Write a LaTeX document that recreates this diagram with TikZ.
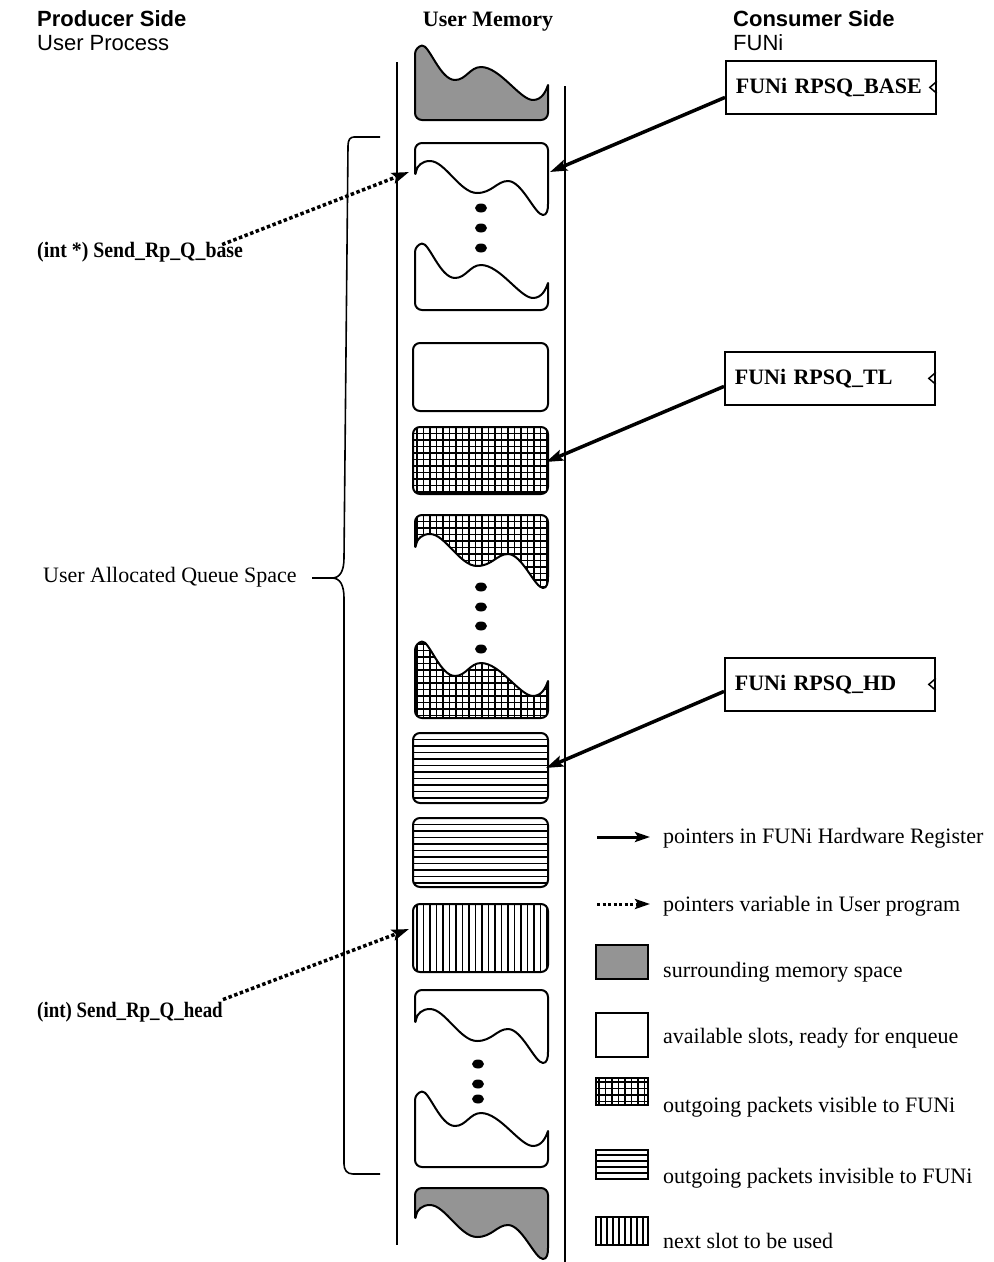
\documentclass[tikz,border=0pt]{standalone}
\usepackage{fontspec}
\setmainfont{Liberation Serif}
\setsansfont{Liberation Sans}
\usetikzlibrary{arrows.meta}

% wave A: top edge of lower slot parts (start at left edge, y0)
\newcommand\wA[1]{(415,#1) .. controls (429,{#1-3}) and (440,{#1+33}) .. (455,{#1+33}) .. controls (466,{#1+33}) and (470,{#1+20}) .. (481,{#1+20}) .. controls (500,{#1+20}) and (520,{#1+53}) .. (533,{#1+53}) .. controls (542,{#1+53}) and (546,{#1+44}) .. (548,{#1+38})}
% wave B: bottom edge of upper slot parts
\newcommand\wB[1]{(415,{#1+2}) .. controls (417,{#1-10}) and (422,{#1-15}) .. (430,{#1-15}) .. controls (445,{#1-15}) and (460,{#1+17}) .. (477,{#1+17}) .. controls (492,{#1+17}) and (497,{#1+5}) .. (508,{#1+5}) .. controls (522,{#1+5}) and (535,{#1+39}) .. (543,{#1+39}) .. controls (547,{#1+39}) and (548,{#1+34}) .. (548,{#1+28})}
% upper part: #1 top, #2 wave y0
\newcommand\shUp[2]{\wB{#2} [rounded corners=7pt] -- (548,#1) -- (415,#1) -- cycle}
% lower part: #1 wave y0, #2 bottom
\newcommand\shLo[2]{\wA{#1} [rounded corners=7pt] -- (548,#2) -- (415,#2) -- cycle}
% hatch fillers over x 413..548, y #1..#2
\newcommand\vhatch[2]{\foreach \i in {0,...,21} \draw[hatchline] ({417+\i*6.5},#1) -- ({417+\i*6.5},#2);}
\newcommand\hhatch[2]{\foreach \i in {0,...,32} \draw[hatchline] (410,{#1+4+\i*6.5}) -- (552,{#1+4+\i*6.5});}

\begin{document}
\begin{tikzpicture}[x=1pt,y=-1pt,
  font=\fontsize{22}{26}\selectfont,
  slotline/.style={line width=2pt, line join=round},
  hatchline/.style={line width=1.5pt},
  gridline/.style={line width=1.8pt},
  colline/.style={line width=1.5pt},
  reg/.style={draw, line width=1.8pt, anchor=north west, text width=190pt, inner xsep=10pt, inner ysep=0pt, minimum height=53pt, align=left, font=\fontsize{22}{26}\selectfont\bfseries},
  lbl/.style={inner sep=0pt, anchor=base west},
  tip/.style={-{Stealth[length=17pt,width=11pt,inset=3pt]}},
  hwarrow/.style={line width=3.5pt, tip},
  ptrarrow/.style={line width=3.5pt, dash pattern=on 3.5pt off 2.5pt, tip},
  dotblob/.style={fill=black, draw=none},
  grayfill/.style={fill=black!42}
]
\useasboundingbox (0,0) rectangle (994,1262);

% ---------- headings ----------
\node[lbl, font=\fontsize{22}{26}\selectfont\sffamily\bfseries] (prod) at (37,26) {Producer Side};
\node[lbl, font=\fontsize{22}{26}\selectfont\sffamily] (proc) at (37,50) {User Process};
\node[inner sep=0pt, anchor=base, font=\fontsize{22}{26}\selectfont\bfseries] (umem) at (488,26) {User Memory};
\node[lbl, font=\fontsize{22}{26}\selectfont\sffamily\bfseries] (cons) at (733,26) {Consumer Side};
\node[lbl, font=\fontsize{22}{26}\selectfont\sffamily] (funi) at (733,50) {FUNi};

% ---------- memory column ----------
\draw[colline] (397,62) -- (397,1245);
\draw[colline] (565,86) -- (565,1262);

% top surrounding memory
\fill[grayfill] \shLo{47}{120};
\draw[slotline] \shLo{47}{120};

% slot 1 (available, broken)
\draw[slotline] \shUp{143}{176};
\draw[slotline] \shLo{245}{310};
\fill[dotblob] (481,208) ellipse (6 and 4.5);
\fill[dotblob] (481,228) ellipse (6 and 4.5);
\fill[dotblob] (481,248) ellipse (6 and 4.5);

% slot 2 available
\draw[slotline, rounded corners=7pt] (413,343) rectangle (548,411);

% slot 3 grid
\begin{scope}
  \clip[rounded corners=7pt] (413,427) rectangle (548,494);
  \vhatch{420}{500}\hhatch{423}{500}
\end{scope}
\draw[slotline, rounded corners=7pt] (413,427) rectangle (548,494);

% slot 4 grid broken
\begin{scope}
  \clip \shUp{515}{549};
  \vhatch{510}{600}\hhatch{511}{600}
\end{scope}
\draw[slotline] \shUp{515}{549};
\begin{scope}
  \clip \shLo{643}{718};
  \vhatch{640}{720}\hhatch{640}{720}
\end{scope}
\draw[slotline] \shLo{643}{718};
\fill[dotblob] (481,587) ellipse (6 and 4.5);
\fill[dotblob] (481,607) ellipse (6 and 4.5);
\fill[dotblob] (481,626) ellipse (6 and 4.5);
\fill[dotblob] (481,649) ellipse (6 and 4.5);

% slot 5 & 6 horizontal
\begin{scope}
  \clip[rounded corners=7pt] (413,733) rectangle (548,803);
  \hhatch{729}{810}
\end{scope}
\draw[slotline, rounded corners=7pt] (413,733) rectangle (548,803);
\begin{scope}
  \clip[rounded corners=7pt] (413,818) rectangle (548,887);
  \hhatch{814}{890}
\end{scope}
\draw[slotline, rounded corners=7pt] (413,818) rectangle (548,887);

% slot 7 vertical
\begin{scope}
  \clip[rounded corners=7pt] (413,904) rectangle (548,972);
  \vhatch{900}{976}
\end{scope}
\draw[slotline, rounded corners=7pt] (413,904) rectangle (548,972);

% slot 8 available broken
\draw[slotline] \shUp{990}{1024};
\draw[slotline] \shLo{1093}{1167};
\fill[dotblob] (478,1064) ellipse (6 and 4.5);
\fill[dotblob] (478,1084) ellipse (6 and 4.5);
\fill[dotblob] (478,1099) ellipse (6 and 4.5);

% bottom surrounding memory
\fill[grayfill] \shUp{1188}{1220};
\draw[slotline] \shUp{1188}{1220};

% ---------- brace ----------
\draw[line width=1.6pt] (380,137) -- (354,137) .. controls (350,137) and (348,140) .. (348,146) -- (344,558) .. controls (344,571) and (340,578) .. (332,578) -- (312,578)
  (332,578) .. controls (340,578) and (344,585) .. (344,598) -- (344,1164) .. controls (344,1170) and (347,1174) .. (353,1174) -- (380,1174);
\node[lbl] (uaqs) at (43,582) {User Allocated Queue Space};

% ---------- registers ----------
\node[reg] (r1) at (725,60) {FUNi RPSQ\_BASE};
\node[reg] (r2) at (724,351) {FUNi RPSQ\_TL};
\node[reg] (r3) at (724,657) {FUNi RPSQ\_HD};
\foreach \r in {r1,r2,r3}
  \draw[line width=1.5pt] ([yshift=6pt]\r.east) -- ([xshift=-7pt]\r.east) -- ([yshift=-6pt]\r.east);

\coordinate (t1) at (550,172);
\coordinate (t2) at (546,462);
\coordinate (t3) at (546,768);
\draw[hwarrow] ([yshift=-10pt]r1.west) -- (t1);
\draw[hwarrow] ([yshift=-8pt]r2.west) -- (t2);
\draw[hwarrow] ([yshift=-7pt]r3.west) -- (t3);

% ---------- user pointer variables ----------
\node[lbl, font=\fontsize{22}{26}\selectfont\bfseries] (lbase) at (37,257) {\scalebox{0.9}[1]{(int *) Send\_Rp\_Q\_base}};
\node[lbl, font=\fontsize{22}{26}\selectfont\bfseries] (lhead) at (37,1017) {\scalebox{0.86}[1]{(int) Send\_Rp\_Q\_head}};
\coordinate (d1) at (409,172);
\coordinate (d2) at (409,929);
\draw[ptrarrow] ([xshift=-21pt,yshift=-3pt]lbase.north east) -- (d1);
\draw[ptrarrow] ([xshift=0pt,yshift=2pt]lhead.north east) -- (d2);

% ---------- legend ----------
\coordinate (la1) at (597,837); \coordinate (lb1) at (650,837);
\coordinate (la2) at (597,904); \coordinate (lb2) at (650,904);
\draw[line width=3pt, -{Stealth[length=15pt,width=10pt,inset=3pt]}] (la1) -- (lb1);
\draw[line width=3pt, dash pattern=on 3pt off 2.5pt, -{Stealth[length=15pt,width=10pt,inset=3pt]}] (la2) -- (lb2);
\node[lbl] (lg1) at (663,843) {pointers in FUNi Hardware Register};
\node[lbl] (lg2) at (663,911) {pointers variable in User program};

\draw[line width=1.8pt, grayfill] (596,945) rectangle (648,979);
\node[lbl] (lg3) at (663,977) {surrounding memory space};

\draw[line width=1.8pt] (596,1013) rectangle (648,1057);
\node[lbl] (lg4) at (663,1043) {available slots, ready for enqueue};

\begin{scope}
  \clip (596,1078) rectangle (648,1105);
  \foreach \i in {0,...,8} \draw[gridline] ({599+\i*6.5},1075) -- ({599+\i*6.5},1108);
  \foreach \i in {0,...,4} \draw[gridline] (593,{1082+\i*6.5}) -- (651,{1082+\i*6.5});
\end{scope}
\draw[line width=1.8pt] (596,1078) rectangle (648,1105);
\node[lbl] (lg5) at (663,1112) {outgoing packets visible to FUNi};

\begin{scope}
  \clip (596,1150) rectangle (648,1179);
  \foreach \i in {0,...,4} \draw[hatchline] (593,{1155+\i*6}) -- (651,{1155+\i*6});
\end{scope}
\draw[line width=1.8pt] (596,1150) rectangle (648,1179);
\node[lbl] (lg6) at (663,1183) {outgoing packets invisible to FUNi};

\begin{scope}
  \clip (596,1217) rectangle (648,1245);
  \foreach \i in {0,...,8} \draw[hatchline] ({601+\i*6},1214) -- ({601+\i*6},1248);
\end{scope}
\draw[line width=1.8pt] (596,1217) rectangle (648,1245);
\node[lbl] (lg7) at (663,1248) {next slot to be used};

\end{tikzpicture}
\end{document}
